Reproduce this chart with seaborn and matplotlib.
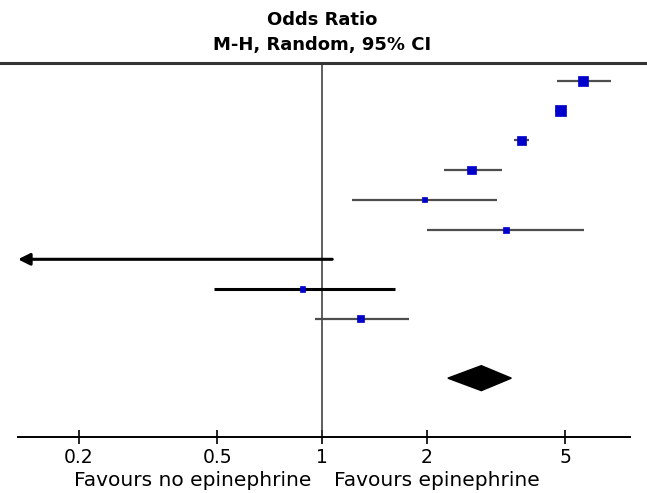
import numpy as np
import pandas as pd
import matplotlib
matplotlib.use("Agg")
import matplotlib.pyplot as plt
from matplotlib.ticker import NullLocator
import seaborn as sns

# study rows, top to bottom
odds_ratio = [5.63, 4.84, 3.74, 2.69, 1.97, 3.37, 0.09, 0.88, 1.29]
ci_low = [4.75, 4.67, 3.57, 2.24, 1.22, 2.00, 0.005, 0.49, 0.955]
ci_high = [6.78, 5.03, 3.94, 3.28, 3.19, 5.67, 1.07, 1.62, 1.78]
weight = [14.5, 17.0, 11.4, 9.0, 3.5, 5.0, 2.0, 3.5, 6.9]

# pooled estimate
pooled_or = 2.87
pooled_low = 2.30
pooled_high = 3.50

tick_values = [0.2, 0.5, 1, 2, 5]
tick_labels = ["0.2", "0.5", "1", "2", "5"]

sns.set_style("white")
plt.rcParams['font.family'] = ['DejaVu Sans']
plt.rcParams['text.color'] = 'black'

df = pd.DataFrame({
    "row": np.arange(1, len(odds_ratio) + 1),
    "or": odds_ratio,
    "lo": ci_low,
    "hi": ci_high,
    "w": weight,
})
dark_line = [False, False, False, False, False, False, True, True, False]

fig = plt.figure(figsize=(6.47, 4.93), dpi=100)
ax = fig.add_axes([0, 0.1136, 1, 0.7586])
ax.set_xscale("log")
xmin, xmax = 10 ** (-322 / 348), 10 ** (325 / 348)
ax.set_xlim(xmin, xmax)
ax.set_ylim(12.98, 0.394)

axis_lo, axis_hi = 10 ** (-304 / 348), 10 ** (308 / 348)

# confidence intervals
for i, r in df.iterrows():
    col = "black" if dark_line[i] else "#4d4d4d"
    lw = 2.2 if dark_line[i] else 1.6
    if r["lo"] < axis_lo:
        ax.annotate("", xy=(axis_lo, r["row"]), xytext=(r["hi"], r["row"]),
                    arrowprops=dict(arrowstyle="-|>,head_length=0.5,head_width=0.25",
                                    color=col, lw=lw,
                                    mutation_scale=14, shrinkA=0, shrinkB=0))
    else:
        ax.plot([r["lo"], r["hi"]], [r["row"], r["row"]], color=col, lw=lw,
                solid_capstyle="butt", zorder=2)

# square markers, area proportional to weight
df["area"] = (2.75 * 0.72) ** 2 * df["w"]
sns.scatterplot(data=df, x="or", y="row", size="area",
                sizes=(df["area"].min(), df["area"].max()),
                marker="s", color="#0000cc", edgecolor="#0000cc",
                linewidth=0.5, legend=False, ax=ax, zorder=3)

# pooled diamond
ax.fill([pooled_low, pooled_or, pooled_high, pooled_or],
        [11, 11 - 0.42, 11, 11 + 0.42], color="black", zorder=3)

ax.axvline(1, color="#333333", lw=1.1, zorder=1)

ax.set_xticks(tick_values)
ax.set_xticklabels(tick_labels)
ax.xaxis.set_minor_locator(NullLocator())
ax.set_yticks([])
ax.set_xlabel("")
ax.set_ylabel("")
ax.tick_params(axis="x", bottom=True, direction="inout", length=10, width=1.2,
               labelsize=13.5, pad=3, colors="black")

for s in ["left", "right"]:
    ax.spines[s].set_visible(False)
ax.spines["top"].set_color("#333333")
ax.spines["top"].set_linewidth(2.2)
ax.spines["bottom"].set_color("black")
ax.spines["bottom"].set_linewidth(1.4)
ax.spines["bottom"].set_bounds(axis_lo, axis_hi)

fig.text(322 / 647, 1 - 20 / 493, "Odds Ratio", ha="center", va="center",
         fontsize=13, fontweight="bold", color="black")
fig.text(322 / 647, 1 - 45 / 493, "M-H, Random, 95% CI", ha="center",
         va="center", fontsize=13, fontweight="bold", color="black")
fig.text(311 / 647, 1 - 481 / 493, "Favours no epinephrine", ha="right",
         va="center", fontsize=14.5, color="black")
fig.text(334 / 647, 1 - 481 / 493, "Favours epinephrine", ha="left",
         va="center", fontsize=14.5, color="black")

plt.savefig("out.png", dpi=100)
